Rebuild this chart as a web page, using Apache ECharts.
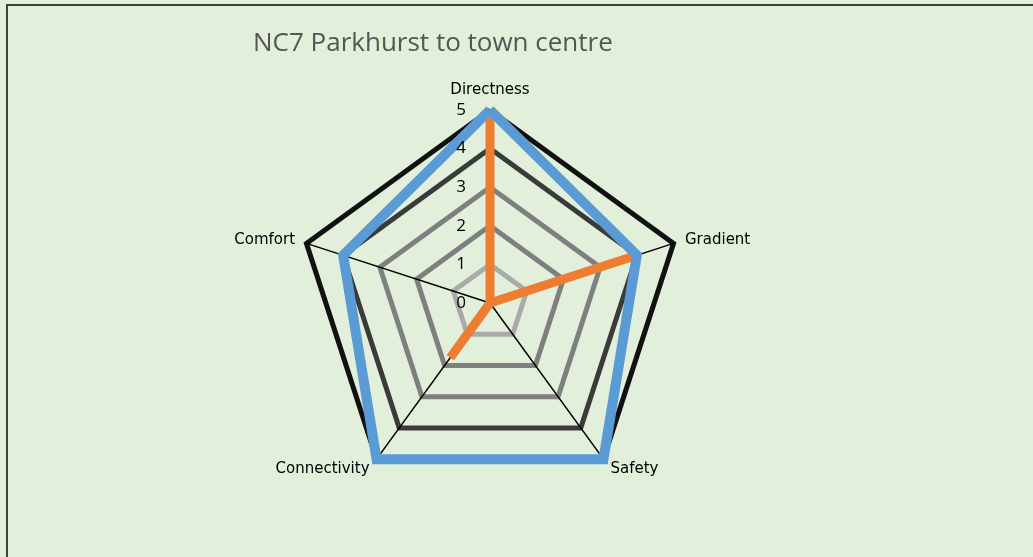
<!DOCTYPE html>
<html>
<head>
<meta charset="utf-8">
<script src="https://cdn.jsdelivr.net/npm/echarts@6/dist/echarts.min.js"></script>
<style>
  html, body { margin: 0; padding: 0; background: #e2efda; }
  #frame {
    position: absolute; left: 6px; top: 4px; width: 1040px; height: 600px;
    border-left: 2px solid #404040; border-top: 2px solid #404040;
    background: #e2efda;
  }
  #chart { position: absolute; left: -8px; top: -6px; width: 1033px; height: 557px; }
</style>
</head>
<body>
<div id="frame"><div id="chart"></div></div>
<script>
// axes, listed counter-clockwise from the top (ECharts order)
var categories = ['Directness', 'Comfort', 'Connectivity', 'Safety', 'Gradient'];
var maxScore = 5;
var tickLabels = ['0', '1', '2', '3', '4', '5'];

var outerScores = [5, 4, 5, 5, 4];
var routeScores = [5, 0, 1.75, 0, 4];

var chart = echarts.init(document.getElementById('chart'));

var option = {
    backgroundColor: 'transparent',
    title: {
        text: 'NC7 Parkhurst to town centre',
        left: 248,
        top: 26,
        textStyle: { fontFamily: 'Open Sans', fontSize: 26, fontWeight: 'normal', color: '#555555' }
    },
    radar: {
        center: [490, 303],
        radius: 193,
        startAngle: 90,
        splitNumber: 5,
        shape: 'polygon',
        indicator: categories.map(function (c) { return { name: c, max: maxScore, min: 0 }; }),
        axisName: {
            color: '#000',
            fontFamily: 'DejaVu Sans',
            fontSize: 15
        },
        nameGap: 12,
        axisLine: { lineStyle: { color: '#000', width: 1.5 } },
        splitLine: {
            lineStyle: {
                color: ['#000', '#aaaaaa', '#7f7f7f', '#7f7f7f', '#3a3a3a', '#111'],
                width: 5
            }
        },
        splitArea: { show: false },
        axisLabel: { show: false }
    },
    polar: { center: [490, 303], radius: 193 },
    angleAxis: { startAngle: 90, show: false, min: 0, max: 360 },
    radiusAxis: {
        min: 0, max: maxScore, interval: 1,
        axisLine: { show: false },
        axisTick: { show: false },
        splitLine: { show: false },
        axisLabel: {
            color: '#000', fontFamily: 'Open Sans', fontSize: 17, margin: 24,
            formatter: function (v) { return tickLabels[v]; }
        },
        z: 10
    },
    series: [
        {
            // drawn first so the blue line covers its outer edge
            type: 'radar',
            symbol: 'none',
            lineStyle: { color: '#ed7d31', width: 9, join: 'bevel' },
            data: [{ value: routeScores, name: 'Series 2' }]
        },
        {
            type: 'radar',
            symbol: 'none',
            lineStyle: { color: '#5b9bd5', width: 10, join: 'miter' },
            data: [{ value: outerScores, name: 'Series 1' }]
        }
    ]
};

chart.setOption(option);
</script>
</body>
</html>
